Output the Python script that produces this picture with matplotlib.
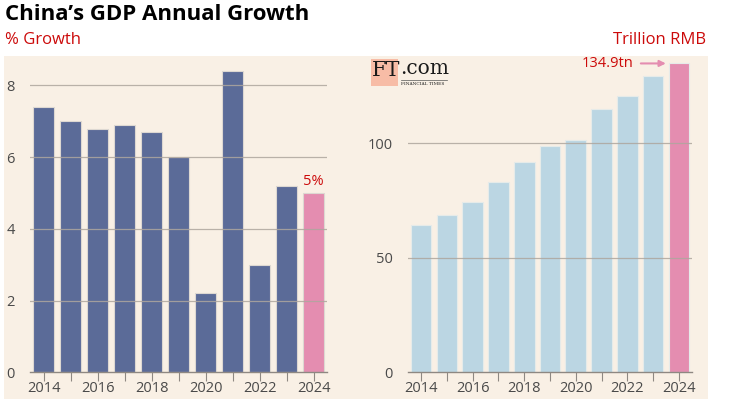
import matplotlib
matplotlib.use("Agg")
import matplotlib.pyplot as plt
from matplotlib.patches import Rectangle

years = list(range(2014, 2025))
growth = [7.4, 7.0, 6.8, 6.9, 6.7, 6.0, 2.2, 8.4, 3.0, 5.2, 5.0]
gdp_trn = [64.4, 68.8, 74.5, 83.2, 91.8, 98.8, 101.4, 115.0, 120.5, 129.4, 134.9]
year_labels = [str(y) if y % 2 == 0 else "" for y in years]
left_yticks = [0, 2, 4, 6, 8]
right_yticks = [0, 50, 100]

BG = "#f9f0e5"
DARK = "#5b6b98"
LIGHT = "#bbd6e3"
PINK = "#e48db0"
RED = "#cc0a0a"
GRID = "#aea69e"
TXT = "#4a4a4a"
FONT = ["Open Sans", "DejaVu Sans"]

plt.rcParams["font.family"] = FONT

W, H = 753, 399
fig = plt.figure(figsize=(W / 100, H / 100), dpi=100)
fig.patch.set_facecolor("white")

# background panel
fig.patches.append(Rectangle((4 / W, 0), (708 - 4) / W, (H - 56) / H,
                             transform=fig.transFigure, facecolor=BG,
                             edgecolor="none", zorder=-1))


def px_axes(x0, x1, ybot, ytop):
    return fig.add_axes([x0 / W, (H - ybot) / H, (x1 - x0) / W, (ybot - ytop) / H])


def style(ax, ymax, yticks):
    ax.set_facecolor("none")
    ax.set_xlim(-0.5, 10.5)
    ax.set_ylim(0, ymax)
    for s in ["top", "right", "left"]:
        ax.spines[s].set_visible(False)
    ax.spines["bottom"].set_color("#8e8882")
    ax.spines["bottom"].set_linewidth(1.0)
    ax.spines["bottom"].set_zorder(4)
    ax.set_xticks(range(len(years)))
    ax.set_xticklabels(year_labels)
    ax.set_yticks(yticks)
    ax.tick_params(axis="x", length=6.5, width=0.8, color="#8e8882",
                   labelsize=10.5, labelcolor=TXT, pad=0)
    ax.tick_params(axis="y", length=0, labelsize=10.5, labelcolor=TXT, pad=11)
    for t in yticks:
        if t > 0:
            ax.axhline(t, color=GRID, lw=0.9, alpha=0.85, zorder=3)


# left chart
ax1 = px_axes(30, 327, 372.3, 56.8)
colors1 = [DARK] * (len(years) - 1) + [PINK]
ax1.bar(range(len(years)), growth, width=0.8, color=colors1,
        edgecolor="#ddd8d2", linewidth=0.8, zorder=2)
style(ax1, 8.8, left_yticks)
ax1.annotate(f"{growth[-1]:g}%", xy=(len(years) - 1, growth[-1]),
             xytext=(0, 3), textcoords="offset points", ha="center",
             va="bottom", color=RED, fontsize=10.5)

# right chart
ax2 = px_axes(408.3, 691.7, 372.3, 56.8)
colors2 = [LIGHT] * (len(years) - 1) + [PINK]
ax2.bar(range(len(years)), gdp_trn, width=0.8, color=colors2,
        edgecolor="#e6ebe9", linewidth=0.8, zorder=2)
style(ax2, 137.8, right_yticks)
ax2.annotate(f"{gdp_trn[-1]:g}tn", xy=(len(years) - 1 - 0.45, gdp_trn[-1]),
             xytext=(-24, 0), textcoords="offset points", ha="right",
             va="center", color=RED, fontsize=10.5,
             arrowprops=dict(arrowstyle="-|>", color=PINK, lw=1.5,
                             shrinkA=3, shrinkB=1, mutation_scale=9))

# titles
fig.text(5 / W, 1 - 14 / H, "China\u2019s GDP Annual Growth", fontsize=16,
         fontweight="bold", color="black", va="center", ha="left")
fig.text(5 / W, 1 - 39.5 / H, "% Growth", fontsize=12, color=RED,
         va="center", ha="left")
fig.text(706 / W, 1 - 39.5 / H, "Trillion RMB", fontsize=12, color=RED,
         va="center", ha="right")

# FT.com logo
fig.patches.append(Rectangle((371 / W, 1 - 86 / H), 27 / W, 27 / H,
                             transform=fig.transFigure, facecolor="#f7bca6",
                             edgecolor="none", zorder=1))
fig.text(372 / W, 1 - 70 / H, "FT", fontsize=15, family="DejaVu Serif",
         color="#1a1a1a", va="center", ha="left")
fig.text(400 / W, 1 - 69 / H, ".com", fontsize=14.5, family="DejaVu Serif",
         color="#1a1a1a", va="center", ha="left")
fig.lines.append(plt.Line2D([401 / W, 447 / W], [1 - 80 / H, 1 - 80 / H],
                            transform=fig.transFigure, color="#555", lw=0.5))
fig.text(401 / W, 1 - 84 / H, "FINANCIAL TIMES", fontsize=3.2,
         family="DejaVu Serif", color="#1a1a1a", va="center", ha="left")

fig.savefig("out.png", dpi=100, facecolor=fig.get_facecolor())
